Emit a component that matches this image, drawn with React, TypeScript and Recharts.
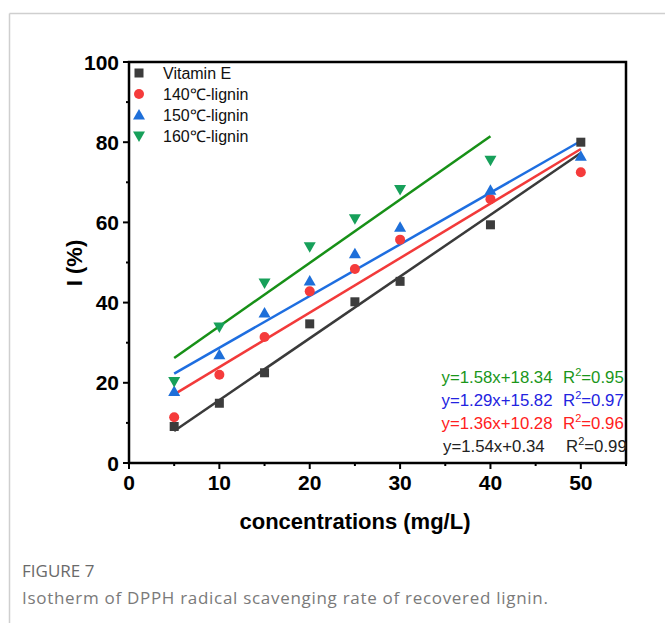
import React from "react";
import { ComposedChart, XAxis, YAxis, Line, Scatter, ReferenceArea } from "recharts";

const concentrations = [5, 10, 15, 20, 25, 30, 40, 50];
const vitaminE = [9.1, 14.9, 22.5, 34.7, 40.2, 45.3, 59.4, 80.0];
const lignin140 = [11.4, 22.0, 31.4, 42.8, 48.4, 55.7, 65.8, 72.5];
const lignin150 = [17.8, 27.0, 37.4, 45.4, 52.2, 58.8, 68.0, 76.5];
const lignin160 = [20.3, 33.9, 44.9, 53.9, 60.9, 68.2, 75.5];

const fitXLong = [5, 50];
const fitXShort = [5, 40];
const fitVitaminE = [8.0, 77.3];
const fit140 = [17.1, 78.3];
const fit150 = [22.3, 80.3];
const fit160 = [26.2, 81.5];

const xTicks = [0, 5, 10, 15, 20, 25, 30, 35, 40, 45, 50, 55];
const yTicks = [0, 10, 20, 30, 40, 50, 60, 70, 80, 90, 100];

const seriesNames = ["Vitamin E", "140℃-lignin", "150℃-lignin", "160℃-lignin"];
const equations = [
  { eq: "y=1.58x+18.34", r2: "0.95", color: "#1a961a" },
  { eq: "y=1.29x+15.82", r2: "0.97", color: "#2323e0" },
  { eq: "y=1.36x+10.28", r2: "0.96", color: "#ff2020" },
  { eq: "y=1.54x+0.34", r2: "0.99", color: "#222222" },
];

const markerColors = ["#3c3c3c", "#f53b3b", "#1e6fd9", "#17a05a"];
const lineColors = ["#3a3a3a", "#f23a3a", "#1e6ee0", "#179017"];

const toPts = (xs: number[], ys: number[]) => ys.map((y, i) => ({ x: xs[i], y }));

const FONT = "'Liberation Sans', Arial, sans-serif";
const CAPFONT = "'Open Sans', Lato, sans-serif";

const Square = (p: any) => (
  <rect x={p.cx - 4.5} y={p.cy - 4.5} width={9} height={9} fill={markerColors[0]} />
);
const Circle = (p: any) => <circle cx={p.cx} cy={p.cy} r={5} fill={markerColors[1]} />;
const TriUp = (p: any) => (
  <polygon
    points={`${p.cx},${p.cy - 6} ${p.cx - 6},${p.cy + 4.5} ${p.cx + 6},${p.cy + 4.5}`}
    fill={markerColors[2]}
  />
);
const TriDown = (p: any) => (
  <polygon
    points={`${p.cx},${p.cy + 6} ${p.cx - 6},${p.cy - 4.5} ${p.cx + 6},${p.cy - 4.5}`}
    fill={markerColors[3]}
  />
);
const shapes = [Square, Circle, TriUp, TriDown];

const XTick = (p: any) => {
  const v = p.payload.value;
  const major = v % 10 === 0;
  return (
    <g>
      <line x1={p.x} x2={p.x} y1={p.y} y2={p.y + (major ? 6 : 3)} stroke="#000" strokeWidth={2} />
      {major && v <= 50 && (
        <text x={p.x} y={p.y + 27} textAnchor="middle" fontFamily={FONT} fontWeight="bold" fontSize={21} fill="#000">
          {v}
        </text>
      )}
    </g>
  );
};

const YTick = (p: any) => {
  const v = p.payload.value;
  const major = v % 20 === 0;
  return (
    <g>
      <line x1={p.x - (major ? 6 : 3)} x2={p.x} y1={p.y} y2={p.y} stroke="#000" strokeWidth={2} />
      {major && (
        <text x={p.x - 10} y={p.y + 7.5} textAnchor="end" fontFamily={FONT} fontWeight="bold" fontSize={21} fill="#000">
          {v}
        </text>
      )}
    </g>
  );
};

export default function App() {
  const scatterData = [
    toPts(concentrations, vitaminE),
    toPts(concentrations, lignin140),
    toPts(concentrations, lignin150),
    toPts(concentrations, lignin160),
  ];
  const fitData = [
    toPts(fitXLong, fitVitaminE),
    toPts(fitXLong, fit140),
    toPts(fitXLong, fit150),
    toPts(fitXShort, fit160),
  ];
  return (
    <div style={{ position: "absolute", left: 0, top: 0, width: 665, height: 623, background: "#fff" }}>
      <ComposedChart width={665} height={623} margin={{ top: 62, right: 39, bottom: 130, left: 69 }}>
        <XAxis
          type="number"
          dataKey="x"
          domain={[0, 55]}
          ticks={xTicks}
          interval={0}
          height={30}
          axisLine={false}
          tickLine={false}
          tickSize={0}
          tickMargin={0}
          tick={<XTick />}
          allowDuplicatedCategory={false}
        />
        <YAxis
          type="number"
          dataKey="y"
          domain={[0, 100]}
          ticks={yTicks}
          interval={0}
          width={60}
          axisLine={false}
          tickLine={false}
          tickSize={0}
          tickMargin={0}
          tick={<YTick />}
        />
        <ReferenceArea x1={0} x2={55} y1={0} y2={100} fill="none" stroke="#000" strokeWidth={2.5} />
        {fitData.map((d, i) => (
          <Line
            key={"fit" + i}
            data={d}
            dataKey="y"
            stroke={lineColors[i]}
            strokeWidth={2.5}
            dot={false}
            activeDot={false}
            isAnimationActive={false}
            legendType="none"
          />
        ))}
        {scatterData.map((d, i) => (
          <Scatter
            key={"sc" + i}
            name={seriesNames[i]}
            data={d}
            dataKey="y"
            shape={shapes[i]}
            isAnimationActive={false}
          />
        ))}
      </ComposedChart>
      <svg
        width={665}
        height={623}
        style={{ position: "absolute", left: 0, top: 0, pointerEvents: "none" }}
      >
        <line x1={9.5} y1={13.5} x2={665} y2={13.5} stroke="#cfcfcf" strokeWidth={1.5} />
        <line x1={9.5} y1={13.5} x2={9.5} y2={623} stroke="#cfcfcf" strokeWidth={1.5} />
        {seriesNames.map((n, i) => {
          const cy = 73 + i * 21;
          const S = shapes[i];
          return (
            <g key={n}>
              <S cx={139} cy={cy} />
              <text x={163} y={cy + 6} fontFamily={FONT} fontSize={16} fill="#111">
                {n}
              </text>
            </g>
          );
        })}
        {equations.map((e, i) => {
          const by = 383 + i * 23;
          const black = i === 3;
          return (
            <g key={e.eq} fontFamily={FONT} fontSize={16.8} fill={e.color}>
              <text x={black ? 443 : 441.5} y={by}>{e.eq}</text>
              <text x={black ? 566 : 563} y={by}>
                R<tspan fontSize={11} dy={-7}>2</tspan>
                <tspan dy={7}>={e.r2}</tspan>
              </text>
            </g>
          );
        })}
        <text
          x={0}
          y={0}
          transform="translate(82,263) rotate(-90)"
          textAnchor="middle"
          fontFamily={FONT}
          fontWeight="bold"
          fontSize={22}
          fill="#000"
        >
          I (%)
        </text>
        <text x={355} y={529} textAnchor="middle" fontFamily={FONT} fontWeight="bold" fontSize={22} fill="#000">
          concentrations (mg/L)
        </text>
        <text x={22} y={577} fontFamily={CAPFONT} fontSize={17} fill="#6a6a6a">
          FIGURE 7
        </text>
        <text x={22} y={604} fontFamily={CAPFONT} fontSize={17} letterSpacing={0.7} fill="#7a7a7a">
          Isotherm of DPPH radical scavenging rate of recovered lignin.
        </text>
      </svg>
    </div>
  );
}
